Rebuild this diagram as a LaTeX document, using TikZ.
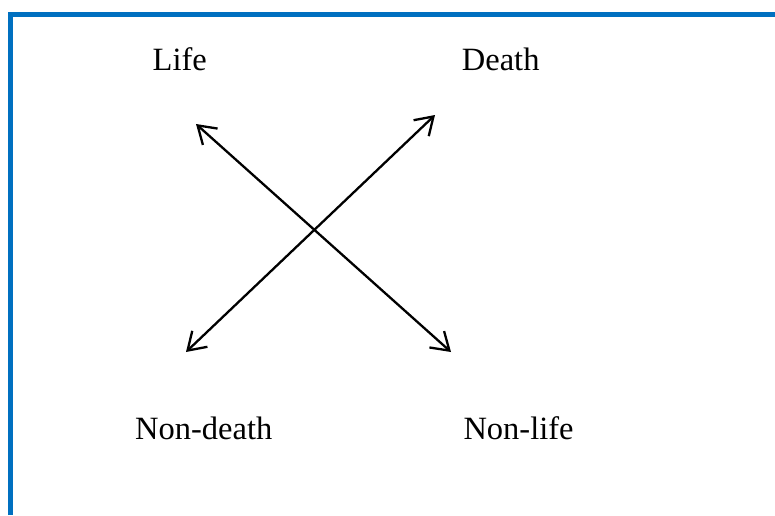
\documentclass[tikz,border=0pt]{standalone}
\usepackage{fontspec}
\setmainfont{Liberation Serif}
\usetikzlibrary{arrows.meta}
\definecolor{frameblue}{HTML}{0070C0}
\tikzset{
  lbl/.style={anchor=base west, inner sep=0pt, font=\fontsize{32.5}{38}\selectfont},
  dbl/.style={line width=2.3pt, {Straight Barb[length=17pt,width=22pt,line width=2.3pt]}-{Straight Barb[length=17pt,width=22pt,line width=2.3pt]}},
  frame/.style={frameblue, line width=5.5pt}
}
\begin{document}
\begin{tikzpicture}[x=1pt,y=-1pt]
\useasboundingbox (0,0) rectangle (775,515);
\draw[frame] (10.5,515) -- (10.5,14.5) -- (775,14.5);
\node[lbl] (life) at (152.5,70.7) {Life};
\node[lbl] (death) at (461.7,70.7) {Death};
\node[lbl] (nondeath) at (135,439) {Non-death};
\node[lbl] (nonlife) at (463.3,439) {Non-life};
\coordinate (a1) at (196,124);
\coordinate (a2) at (451,352);
\coordinate (b1) at (186,352);
\coordinate (b2) at (435,115);
\draw[dbl] (a1) -- (a2);
\draw[dbl] (b1) -- (b2);
\end{tikzpicture}
\end{document}
